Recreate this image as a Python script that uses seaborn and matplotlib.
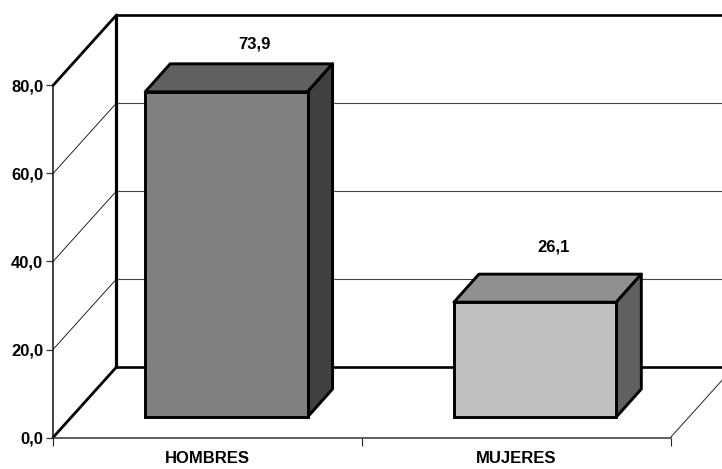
import matplotlib
matplotlib.use('Agg')
import matplotlib.pyplot as plt
from matplotlib.patches import Polygon
from matplotlib.ticker import FixedLocator, NullFormatter
import seaborn as sns

categorias = ["HOMBRES", "MUJERES"]
porcentajes = [73.9, 26.1]
y_ticks = [0, 20, 40, 60, 80]
y_labels = ["0,0", "20,0", "40,0", "60,0", "80,0"]
grid_vals = [20, 40, 60]
front_colors = ["#808080", "#C0C0C0"]
top_colors = ["#606060", "#909090"]
side_colors = ["#404040", "#606060"]
label_offsets = [(27.7, 48), (18.5, 55)]  # pixels, from front top of the bar

W, H = 722, 469
sns.set_theme(style="white")
plt.rcParams['font.family'] = ['Liberation Sans', 'DejaVu Sans']
FONT = dict(fontsize=12, fontweight="bold", color="black")

# ── Pixel layout ───────────────────────────────────────────────────────────────
PLOT_W, PLOT_H = 617.5, 352.0
UX, UY = 2 / PLOT_W, 80 / PLOT_H   # data units per pixel
WALL_DX, WALL_DY = 63.5, 70.5      # depth of the whole floor
BAR_DX, BAR_DY = 25, 28            # depth of a bar
EDGE = 2.1

fig = plt.figure(figsize=(W / 100, H / 100), dpi=100, facecolor="white")
ax = fig.add_axes([53 / W, (H - 437.5) / H, PLOT_W / W, PLOT_H / H])
ax_bars = fig.add_axes([72.0 / W, (H - 417) / H, PLOT_W / W, PLOT_H / H])
ax_bars.patch.set_alpha(0)
ax.patch.set_alpha(0)


def wall(x, y):
    return x + WALL_DX * UX, y + WALL_DY * UY


# ── Frame: front plane axes ────────────────────────────────────────────────────
ax.set_xlim(-0.5, 1.5)
ax.set_ylim(0, 80)
sns.despine(ax=ax)
ax.spines["left"].set_linewidth(1.1)
ax.spines["left"].set_color("#111111")
ax.spines["bottom"].set_linewidth(1.1)
ax.spines["bottom"].set_color("#333333")
ax.set_yticks(y_ticks)
ax.set_yticklabels(y_labels, **FONT)
ax.xaxis.set_major_locator(FixedLocator([-0.5, 0.5, 1.5]))
ax.xaxis.set_major_formatter(NullFormatter())
ax.set_xticks([0, 1], categorias, minor=True, **FONT)
ax.tick_params(axis="y", which="major", left=True, length=5, width=0.9,
               color="#333333", pad=2)
ax.tick_params(axis="x", which="major", bottom=True, length=5.5, width=0.8,
               color="#222222")
ax.tick_params(axis="x", which="minor", bottom=False, length=0, pad=10)

x0, x1 = -0.5, 1.5
for v in grid_vals:
    bx, by = wall(x0, v)
    ax.plot([x0, bx], [v, by], color="black", lw=0.6, clip_on=False, zorder=1)
    ax.plot([bx, wall(x1, v)[0]], [by, by], color="#444444", lw=0.8, clip_on=False, zorder=1)

for v in [0, 80]:
    bx, by = wall(x0, v)
    ax.plot([x0, bx], [v, by], color="black", lw=2, clip_on=False, zorder=2)
    ax.plot([bx, wall(x1, v)[0]], [by, by], color="black", lw=1.9, clip_on=False, zorder=2)
bx0, by0 = wall(x0, 0)
ax.plot([bx0, bx0], [by0, wall(x0, 80)[1]], color="black", lw=2.3, clip_on=False, zorder=2)
ax.plot([x1, wall(x1, 0)[0]], [0, wall(x1, 0)[1]], color="#222222", lw=0.7, clip_on=False, zorder=1)

# ── Bars ───────────────────────────────────────────────────────────────────────
sns.barplot(x=categorias, y=porcentajes, hue=categorias, palette=front_colors,
            legend=False, width=0.526, saturation=1, edgecolor="black",
            linewidth=EDGE, ax=ax_bars)
ax_bars.set_xlim(-0.5, 1.5)
ax_bars.set_ylim(0, 80)
ax_bars.axis("off")

dx, dy = BAR_DX * UX, BAR_DY * UY
for i, patch in enumerate(ax_bars.patches):
    patch.set_clip_on(False)
    patch.set_joinstyle("miter")
    left, right = patch.get_x(), patch.get_x() + patch.get_width()
    top = patch.get_height()
    ax_bars.add_patch(Polygon([(left, top), (right, top), (right + dx, top + dy), (left + dx, top + dy)],
                              facecolor=top_colors[i], edgecolor="black", lw=EDGE,
                              joinstyle="round", clip_on=False, zorder=patch.get_zorder() - 0.1))
    ax_bars.add_patch(Polygon([(right, 0), (right + dx, dy), (right + dx, top + dy), (right, top)],
                              facecolor=side_colors[i], edgecolor="black", lw=EDGE,
                              joinstyle="round", clip_on=False, zorder=patch.get_zorder() - 0.1))
    txt = f"{porcentajes[i]:.1f}".replace(".", ",")
    ax_bars.annotate(txt, xy=(i, top), xytext=label_offsets[i], textcoords="offset pixels",
                     ha="center", va="center", annotation_clip=False, **FONT)

fig.savefig("out.png", dpi=100, facecolor="white")
plt.close(fig)
